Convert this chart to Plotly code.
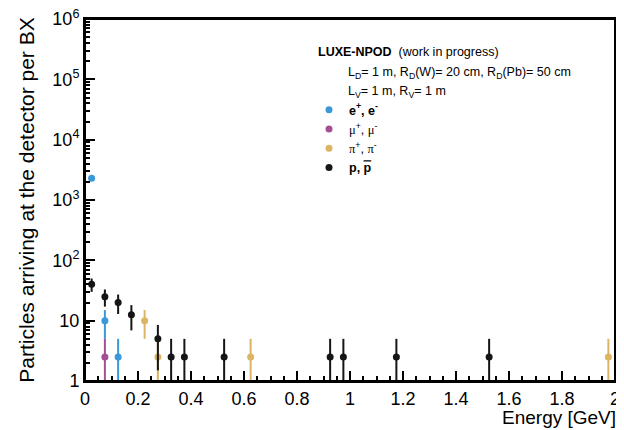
import plotly.graph_objects as go

# ---- data ----
e_x = [0.025, 0.075, 0.125]
e_y = [2300, 10, 2.5]
e_err_up = [76, 5, 2.5]
e_err_dn = [76, 5, 2.49]

mu_x = [0.075]
mu_y = [2.5]
mu_err_up = [2.5]
mu_err_dn = [2.49]

pi_x = [0.225, 0.275, 0.625, 1.975]
pi_y = [10, 2.5, 2.5, 2.5]
pi_err_up = [5, 2.5, 2.5, 2.5]
pi_err_dn = [5, 2.49, 2.49, 2.49]

p_x = [0.025, 0.075, 0.125, 0.175, 0.275, 0.325, 0.375, 0.525, 0.925, 0.975, 1.175, 1.525]
p_y = [40, 25, 20, 12.5, 5, 2.5, 2.5, 2.5, 2.5, 2.5, 2.5, 2.5]
p_err_up = [10, 7.9, 7.1, 5.6, 3.5, 2.5, 2.5, 2.5, 2.5, 2.5, 2.5, 2.5]
p_err_dn = [10, 7.9, 7.1, 5.6, 3.5, 2.49, 2.49, 2.49, 2.49, 2.49, 2.49, 2.49]

y_tickvals = [1, 10, 100, 1000, 10000, 100000, 1000000]
y_ticktext = ["1", "10", "10<sup>2</sup>", "10<sup>3</sup>", "10<sup>4</sup>", "10<sup>5</sup>", "10<sup>6</sup>"]
x_tickvals = [0, 0.2, 0.4, 0.6, 0.8, 1, 1.2, 1.4, 1.6, 1.8, 2]
x_ticktext = ["0", "0.2", "0.4", "0.6", "0.8", "1", "1.2", "1.4", "1.6", "1.8", "2"]

C_E = "#3a98d8"
C_MU = "#a34f93"
C_PI = "#dcb462"
C_P = "#151515"

FONT = "Liberation Sans, Arial, sans-serif"
SERIF = "Liberation Serif"

# page has an 8px body margin; figure placed at (8, 8)
OFF = 8
W, H = 624 - OFF, 430 - OFF
# target plot area in window pixels: x 85..615, y 19..381
L, R, T, B = 85 - OFF, 624 - 615, 19 - OFF, 430 - 381
PW, PH = W - L - R, H - T - B

def px(x):  # window pixel -> paper fraction
    return (x - OFF - L) / PW

def py(y):
    return 1 - (y - OFF - T) / PH

fig = go.Figure()

def add(x, y, up, dn, color, name):
    fig.add_trace(go.Scatter(
        x=x, y=y, mode="markers", name=name,
        marker=dict(color=color, size=7, symbol="circle"),
        error_y=dict(type="data", symmetric=False, array=up, arrayminus=dn,
                     color=color, thickness=2, width=0),
    ))

add(e_x, e_y, e_err_up, e_err_dn, C_E, "<b>e<sup>+</sup>, e<sup>-</sup></b>")
add(mu_x, mu_y, mu_err_up, mu_err_dn, C_MU,
    f"<span style='font-family:{SERIF}'>μ</span><sup>+</sup>, <span style='font-family:{SERIF}'>μ</span><sup>-</sup>")
add(pi_x, pi_y, pi_err_up, pi_err_dn, C_PI,
    f"<span style='font-family:{SERIF}'>π</span><sup>+</sup>, <span style='font-family:{SERIF}'>π</span><sup>-</sup>")
add(p_x, p_y, p_err_up, p_err_dn, C_P, "<b>p, <span style='text-decoration:overline'>p</span></b>")

fig.update_layout(
    width=W, height=H,
    margin=dict(l=L, r=R, t=T, b=B, autoexpand=False),
    paper_bgcolor="white", plot_bgcolor="white",
    font=dict(family=FONT, color="black"),
    showlegend=True,
    legend=dict(x=px(309), xanchor="left", y=py(95), yanchor="top",
                font=dict(size=12.5, family=FONT),
                bgcolor="rgba(0,0,0,0)", tracegroupgap=0),
)

minor_y = [m * 10 ** d for d in range(6) for m in range(2, 10)]

fig.update_xaxes(
    range=[0, 2], showgrid=False, zeroline=False, automargin=False,
    showline=True, linecolor="black", linewidth=2, mirror=True,
    ticks="inside", ticklen=10, tickwidth=1.5, tickcolor="black",
    tickvals=x_tickvals, ticktext=x_ticktext, ticklabeloverflow="allow",
    tickfont=dict(size=18, family=FONT),
    minor=dict(ticks="inside", ticklen=5, tickwidth=1.5, tickcolor="black", dtick=0.05, showgrid=False),
)

fig.update_yaxes(
    type="log", range=[0, 6], showgrid=False, zeroline=False, automargin=False,
    showline=True, linecolor="black", linewidth=2, mirror=True,
    ticks="inside", ticklen=10, tickwidth=1.5, tickcolor="black",
    tickvals=y_tickvals, ticktext=y_ticktext, ticklabeloverflow="allow",
    tickfont=dict(size=18, family=FONT),
    minor=dict(ticks="inside", ticklen=5, tickwidth=1.5, tickcolor="black",
               tickvals=minor_y, showgrid=False),
    title=dict(text="Particles arriving at the detector per BX", font=dict(size=21, family=FONT), standoff=12),
)

# plot frame
fig.add_shape(type="rect", xref="paper", yref="paper", x0=0, x1=1, y0=0, y1=1,
              line=dict(color="black", width=2), layer="above")

fig.add_annotation(xref="paper", yref="paper", x=1.006, y=0, yshift=-24, xanchor="right", yanchor="top",
                   text="Energy [GeV]", showarrow=False, font=dict(size=19, family=FONT))

fig.add_annotation(xref="paper", yref="paper", x=px(316), y=py(52),
                   xanchor="left", yanchor="middle", showarrow=False,
                   text="<b>LUXE-NPOD</b>  (work in progress)", font=dict(size=12.5, family=FONT))
fig.add_annotation(xref="paper", yref="paper", x=px(346), y=py(73),
                   xanchor="left", yanchor="middle", showarrow=False,
                   text="L<sub>D</sub>= 1 m, R<sub>D</sub>(W)= 20 cm, R<sub>D</sub>(Pb)= 50 cm",
                   font=dict(size=12.5, family=FONT))
fig.add_annotation(xref="paper", yref="paper", x=px(346), y=py(92),
                   xanchor="left", yanchor="middle", showarrow=False,
                   text="L<sub>V</sub>= 1 m, R<sub>V</sub>= 1 m",
                   font=dict(size=12.5, family=FONT))

fig.write_html("out.html")
